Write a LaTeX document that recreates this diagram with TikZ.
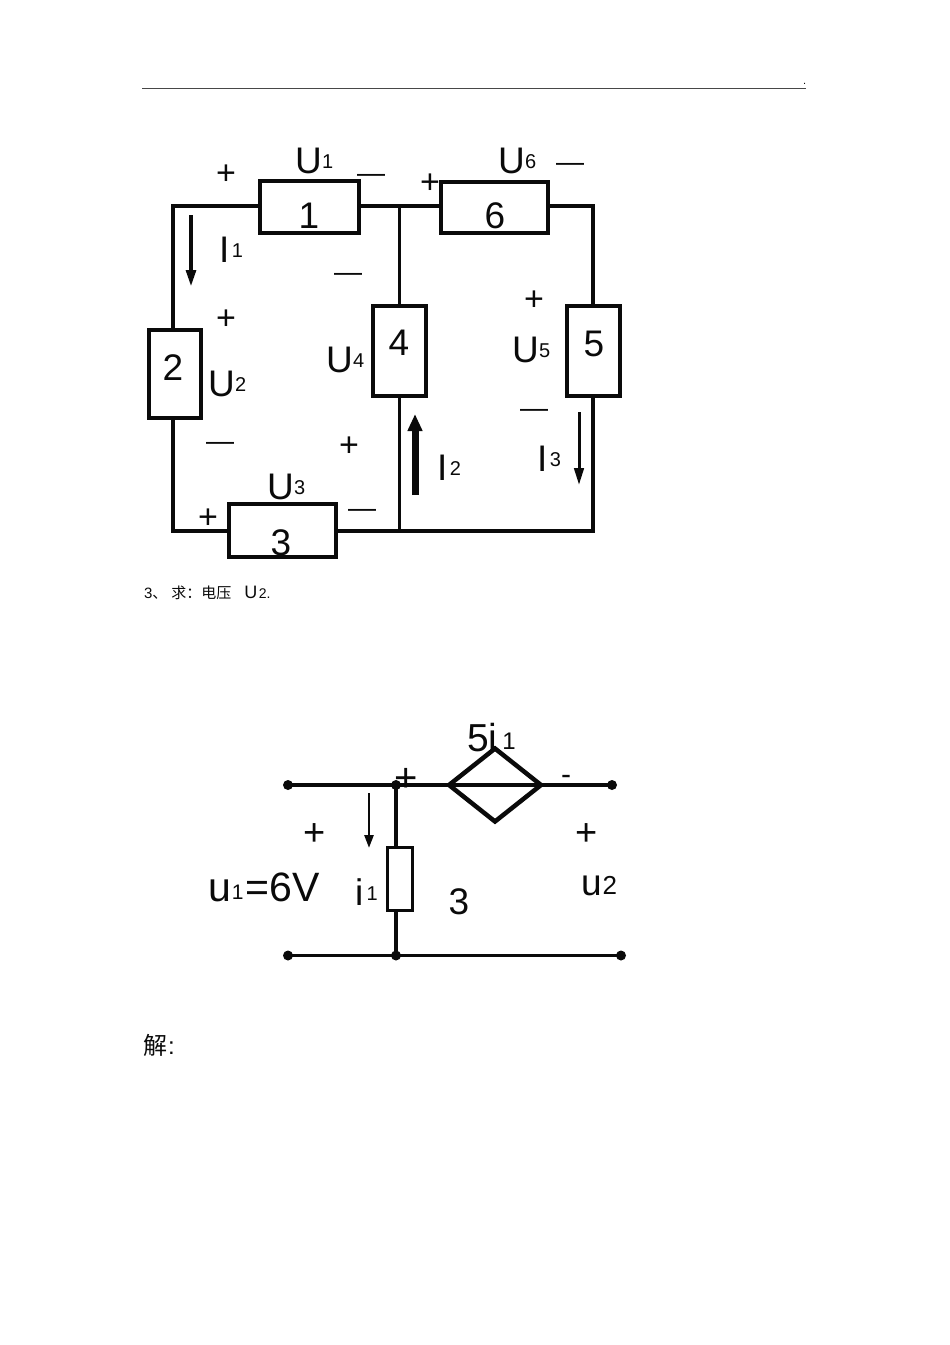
\documentclass[tikz,border=0pt]{standalone}
\usepackage{fontspec}
\setmainfont{Liberation Sans}
\newfontfamily\cjkfont{Noto Sans CJK SC}
\usetikzlibrary{arrows.meta,shapes.geometric}
\definecolor{ink}{HTML}{0A0A0A}
\newcommand{\fs}[1]{\fontsize{#1}{#1}\selectfont}
% big letter + raised small index
\newcommand{\mainsub}[3][0.5pt]{{\fs{37}#2}\kern#1\raisebox{4.5pt}{\fs{20}#3}}
\tikzset{
  x=1pt,y=-1pt,
  wire/.style={draw=ink,line width=3.3pt,line cap=rect},
  elem/.style={draw=ink,line width=4pt,fill=white,rectangle,inner sep=0pt,outer sep=0pt},
  relem/.style={draw=ink,line width=3pt,fill=white,rectangle,inner sep=0pt,outer sep=0pt},
  lbl/.style={anchor=base west,inner sep=0pt,outer sep=0pt,text=ink},
  num/.style={anchor=base,inner sep=0pt,outer sep=0pt,text=ink,font=\fs{37}},
  sym/.style={anchor=base,inner sep=0pt,outer sep=0pt,text=ink,font=\fs{34}},
  bigsym/.style={anchor=base,inner sep=0pt,outer sep=0pt,text=ink,font=\fs{38}},
  dsh/.style={anchor=base,inner sep=0pt,outer sep=0pt,text=ink,font=\fs{28}},
  dot/.style={circle,fill=ink,draw=none,minimum size=10pt,inner sep=0pt,outer sep=0pt},
  arrowA/.style={draw=ink,line width=4pt,-{Triangle[length=17pt,width=9.5pt]}},
  arrowC/.style={draw=ink,line width=3pt,-{Triangle[length=17pt,width=9.5pt]}},
  bigarrow/.style={draw=ink,line width=7pt,-{Triangle[length=17pt,width=14pt]}},
  lowarrow/.style={draw=ink,line width=2.6pt,-{Triangle[length=13pt,width=9pt]}},
}
\begin{document}
\begin{tikzpicture}
\useasboundingbox (0,0) rectangle (950,1345);
% header rule
\coordinate (hl) at (142,88.5);
\coordinate (hr) at (806,88.5);
\draw[draw=ink!75,line width=1pt] (hl) -- (hr);
\node[lbl,font=\fs{11}] (dotmark) at (803,84) {.};

% upper circuit: corners
\coordinate (tl) at (173,206);
\coordinate (tj) at (399.5,206);
\coordinate (tr) at (593,206);
\coordinate (bl) at (173,531);
\coordinate (bj) at (399.5,531);
\coordinate (br) at (593,531);

\node[elem,minimum width=99.5pt,minimum height=52pt] (b1) at (309.5,207) {};
\node[elem,minimum width=107pt,minimum height=51pt] (b6) at (494,207) {};
\node[elem,minimum width=52.5pt,minimum height=90pt] (b4) at (399.5,350.5) {};
\node[elem,minimum width=53pt,minimum height=90pt] (b5) at (593,350.5) {};
\node[elem,minimum width=52.5pt,minimum height=88.5pt] (b2) at (175,374) {};
\node[elem,minimum width=107pt,minimum height=53pt] (b3) at (282.5,530.5) {};

\draw[wire] (tl |- b2.north) -- (tl) -- (tl -| b1.west);
\draw[wire] (b1.east |- tj) -- (tj -| b6.west);
\draw[wire] (b6.east |- tr) -- (tr) -- (b5.north);
\draw[wire] (tj) -- (b4.north);
\draw[wire] (b4.south) -- (bj);
\draw[wire] (b5.south) -- (br) -- (bj);
\draw[wire] (bj) -- (bj -| b3.east);
\draw[wire] (bl -| b3.west) -- (bl) -- (tl |- b2.south);

% element numbers
\node[num] (n1) at (309,228) {1};
\node[num] (n6) at (495,228) {6};
\node[num] (n4) at (399,355) {4};
\node[num] (n5) at (594,356) {5};
\node[num] (n2) at (173,380) {2};
\node[num] (n3) at (281,555) {3};

% voltage and current labels
\node[lbl] (U1) at (295,173) {\mainsub{U}{1}};
\node[lbl] (U6) at (498,173) {\mainsub{U}{6}};
\node[lbl] (U4) at (326,372) {\mainsub{U}{4}};
\node[lbl] (U2) at (208,396) {\mainsub{U}{2}};
\node[lbl] (U3) at (267,499) {\mainsub{U}{3}};
\node[lbl] (U5) at (512,362) {\mainsub{U}{5}};
\node[lbl] (I1) at (219,262) {\mainsub[2.5pt]{I}{1}};
\node[lbl] (I2) at (437,480) {\mainsub[2.5pt]{I}{2}};
\node[lbl] (I3) at (537,471) {\mainsub[2.5pt]{I}{3}};

% polarity marks (base = centre + 12)
\node[sym] (p1) at (226,184) {+};
\node[sym] (p2) at (226,329) {+};
\node[sym] (p3) at (430,193.5) {+};
\node[sym] (p4) at (534,310) {+};
\node[sym] (p5) at (349,456) {+};
\node[sym] (p6) at (208,528.5) {+};
\node[dsh] (m1) at (371,182) {—};
\node[dsh] (m2) at (348,281) {—};
\node[dsh] (m3) at (220,450.5) {—};
\node[dsh] (m4) at (362,517) {—};
\node[dsh] (m5) at (534,417) {—};
\node[dsh] (m6) at (570,171) {—};

% current arrows
\coordinate (a1s) at (191,215); \coordinate (a1e) at (191,287);
\coordinate (a2s) at (415,495); \coordinate (a2e) at (415,414);
\coordinate (a3s) at (579,412); \coordinate (a3e) at (579,485);
\draw[arrowA] (a1s) -- (a1e);
\draw[bigarrow] (a2s) -- (a2e);
\draw[arrowC] (a3s) -- (a3e);

% caption
\node[lbl,font=\fs{15}] (cap) at (144,598) {3{\cjkfont 、}\kern4pt{\cjkfont 求：}{\cjkfont 电压}\kern13pt{\fs{18}U}\kern1.5pt{\fs{14}2.}};

% lower circuit
\node[dot] (tA) at (288,785) {};
\node[dot] (tJ) at (396,785) {};
\node[dot] (tB) at (612,785) {};
\node[dot] (bA) at (288,955.5) {};
\node[dot] (bJ) at (396,955.5) {};
\node[dot] (bB) at (621,955.5) {};
\node[relem,minimum width=25pt,minimum height=63.5pt] (R) at (399.5,879) {};
\node[diamond,draw=ink,line width=4.5pt,fill=white,minimum width=92pt,minimum height=73pt,inner sep=0pt,outer sep=0pt,aspect=1.26] (D) at (495,785) {};
\draw[wire] (tA) -- (D.west);
\draw[wire] (D.east) -- (tB);
\draw[draw=ink,line width=4.5pt] (D.west) -- (D.east);
\draw[wire] (tJ) -- (tJ |- R.north);
\draw[wire] (tJ |- R.south) -- (bJ);
\draw[wire] (bA) -- (bB);
\coordinate (a4s) at (369,793); \coordinate (a4e) at (369,848);
\draw[lowarrow] (a4s) -- (a4e);

\node[lbl] (ulabel) at (208,901) {{\fs{41}u}\kern1pt\raisebox{2pt}{\fs{21}1}\kern2.5pt{\fs{41}=6V}};
\node[lbl] (ilabel) at (355,905) {\mainsub[3.5pt]{i}{1}};
\node[lbl] (u2label) at (581,895) {{\fs{37}u}\kern1pt\raisebox{1pt}{\fs{26}2}};
\node[lbl] (ctrl) at (467,751) {{\fs{39}5i}\kern5pt\raisebox{2pt}{\fs{24}1}};
\node[num] (r3) at (459,914) {3};
\node[bigsym,font=\fs{40}] (q1) at (406,791) {+};
\node[bigsym] (q2) at (315,845) {+};
\node[bigsym] (q3) at (587,845) {+};
\node[sym,font=\fs{30}] (q4) at (566,784) {-};

% solution
\node[lbl,font=\fs{24}] (sol) at (143,1054) {{\cjkfont 解}\kern1pt:};
\end{tikzpicture}
\end{document}
